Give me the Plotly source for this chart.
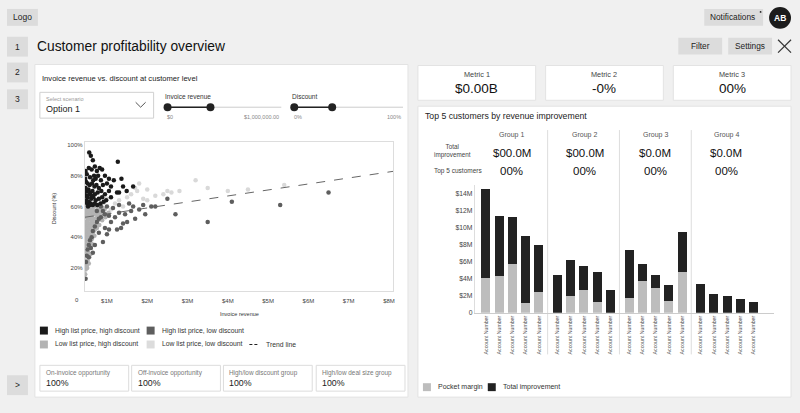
import plotly.graph_objects as go

# ---------------- DATA ----------------
# Scatter: (invoice revenue in $M, discount in %)
hi_list_hi_disc = [(0.56,95),(0.60,93),(0.65,90),(1.27,89),(0.47,83),(0.50,81),(0.55,85),(0.62,84),
    (0.70,86),(0.75,83),(0.82,85),(0.88,84),(0.68,80),(0.78,80),(0.58,79),(0.66,77),(0.72,78),
    (0.85,77),(0.95,80),(1.05,78),(1.17,77),(1.36,78),(0.48,76),(0.52,75),(0.57,74),(0.63,75),
    (0.69,73),(0.74,74),(0.80,72),(0.90,74),(1.00,75),(1.10,73),(1.40,73),(1.65,73),(1.49,70),
    (0.47,72),(0.50,70),(0.54,71),(0.59,69),(0.64,70),(0.70,68),(0.77,69),(0.86,70),(0.95,68),
    (1.05,70),(1.25,69),(1.30,69),(0.48,67),(0.52,66),(0.56,68),(0.61,65),(0.66,66),(0.72,64),
    (0.80,65),(0.88,66),(0.98,64),(1.10,66),(0.47,63),(0.51,62),(0.55,63),(0.60,62),(0.65,61),
    (0.70,62),(0.76,61),(0.84,62),(0.92,63),(0.49,64),(0.53,60),(0.58,61),(0.62,67),(0.45,69),(0.46,78)]
hi_list_lo_disc = [(2.7,55),(3.5,50),(4.1,63),(5.3,61),(6.5,69),(2.5,65),(2.1,60),(1.8,58),(1.9,61),
    (1.7,52),(1.6,57),(1.55,62),(1.45,55),(1.4,49),(1.3,56),(1.2,53),(1.1,50),(1.05,45),(1.0,42),
    (1.25,45),(1.35,46),(1.5,50),(1.65,60),(0.95,55),(0.9,57),(0.85,53),(0.8,52),(0.75,50),(0.7,47),
    (0.65,44),(0.62,40),(0.58,38),(0.55,35),(0.52,32),(0.5,28),(0.48,24),(0.47,13),(0.9,37),(0.8,43),
    (0.7,35),(0.6,33),(1.15,59),(1.3,61),(2.2,60),(1.95,55),(0.95,46),(1.05,54),(0.75,57),
    (0.85,60),(1.0,60),(0.65,30),(0.55,27)]
lo_list_hi_disc = [(0.46,16),(0.47,19),(0.46,23),(0.48,25),(0.47,29),(0.46,31),(0.49,34),(0.47,38),
    (0.48,40),(0.46,43),(0.47,47),(0.49,49),(0.46,53),(0.48,55),(0.47,58),(0.46,61),
    (0.51,20),(0.50,22),(0.52,25),(0.51,28),(0.50,31),(0.53,33),(0.51,37),(0.52,39),(0.50,42),
    (0.51,46),(0.53,48),(0.52,51),(0.50,55),(0.51,57),(0.52,60),
    (0.55,23),(0.56,27),(0.54,30),(0.57,35),(0.55,38),(0.56,41),(0.54,46),(0.57,49),(0.55,53),
    (0.56,57),(0.54,61),
    (0.59,29),(0.60,33),(0.58,37),(0.61,40),(0.59,45),(0.60,48),(0.58,52),(0.61,56),(0.60,60),
    (0.64,35),(0.63,39),(0.65,42),(0.66,47),(0.64,50),(0.63,54),(0.65,58),(0.66,61),
    (0.69,41),(0.70,45),(0.68,48),(0.71,52),(0.69,57),(0.70,60),
    (0.75,46),(0.74,49),(0.76,54),(0.73,57),(0.75,61),
    (0.81,48),(0.80,53),(0.82,56),(0.79,60),
    (0.88,51),(0.86,55),(0.89,59),
    (0.96,53),(0.94,58),(1.04,56),
    (0.47,44),(0.48,50),(0.49,57),(0.48,60),(0.53,44),(0.54,52),(0.53,56),(0.57,43),(0.58,47),
    (0.58,55),(0.57,59),(0.62,44),(0.61,51),(0.62,58),(0.67,44),(0.66,52),(0.67,55),(0.72,47),
    (0.71,56),(0.73,52),(0.78,51),(0.77,55),(0.78,58),(0.84,53),(0.83,57),(0.90,55),(0.62,36),
    (0.56,33),(0.53,29),(0.49,22),(0.47,35),(0.50,39)]
lo_list_lo_disc = [(1.8,75),(3.2,77),(3.5,72),(4.0,70),(4.5,71),(5.4,74),(2.0,71),(2.5,70),(2.8,70),
    (1.6,68),(1.9,65),(2.2,67),(1.7,72),(1.5,66),(1.3,64),(1.2,62),(2.0,64),(2.4,68),(1.4,60),
    (1.1,58),(0.9,62),(1.0,65),(0.85,58),(1.75,70),(2.6,69)]
trend_x = [0.45, 8.1]
trend_y = [53, 82.8]

scatter_x_tickvals = [1, 2, 3, 4, 5, 6, 7, 8]
scatter_x_ticktext = ["$1M", "$2M", "$3M", "$4M", "$5M", "$6M", "$7M", "$8M"]
scatter_y_tickvals = [20, 40, 60, 80, 100]
scatter_y_ticktext = ["20%", "40%", "60%", "80%", "100%"]

legend_labels = ["High list price, high discount", "High list price, low discount",
                 "Low list price, high discount", "Low list price, low discount", "Trend line"]

# Bars: 4 groups x 5 customers ($M)
groups = ["Group 1", "Group 2", "Group 3", "Group 4"]
group_totals = ["$00.0M", "$00.0M", "$0.0M", "$0.0M"]
group_pcts = ["00%", "00%", "00%", "00%"]
pocket_margin = [4.1, 4.3, 5.7, 1.1, 2.45, 0, 1.95, 2.65, 1.3, 0,
                 1.75, 3.7, 2.95, 1.35, 4.8, 0, 0, 0, 0, 0]
total_improvement = [10.4, 7.0, 5.5, 7.85, 5.45, 4.4, 4.25, 2.85, 3.45, 2.7,
                     5.65, 2.0, 1.5, 1.85, 4.7, 3.35, 2.2, 1.9, 1.65, 1.25]
account_label = "Account Number"
bar_y_tickvals = [0, 2, 4, 6, 8, 10, 12, 14]
bar_y_ticktext = ["0", "$2M", "$4M", "$6M", "$8M", "$10M", "$12M", "$14M"]

metrics = ["Metric 1", "Metric 2", "Metric 3"]
metric_values = ["$0.00B", "-0%", "00%"]
bottom_cards = ["On-invoice opportunity", "Off-invoice opportunity", "High/low discount group", "High/low deal size group"]
bottom_values = ["100%", "100%", "100%", "100%"]

# ---------------- LAYOUT HELPERS ----------------
W, H = 800, 413
FONT = "Liberation Sans, Arial, sans-serif"
def X(p): return p / W
def Y(p): return 1 - p / H

shapes, annots = [], []

def rect(x0, y0, x1, y1, fill, line=None, lw=1):
    shapes.append(dict(type="rect", xref="paper", yref="paper", x0=X(x0), x1=X(x1), y0=Y(y1), y1=Y(y0),
                       fillcolor=fill, line=dict(color=line if line else fill, width=lw if line else 0), layer="below"))

def seg(x0, y0, x1, y1, color, width=1, dash="solid"):
    shapes.append(dict(type="line", xref="paper", yref="paper", x0=X(x0), x1=X(x1), y0=Y(y0), y1=Y(y1),
                       line=dict(color=color, width=width, dash=dash), layer="below"))

def circ(cx, cy, r, fill):
    shapes.append(dict(type="circle", xref="paper", yref="paper", x0=X(cx - r), x1=X(cx + r), y0=Y(cy + r), y1=Y(cy - r),
                       fillcolor=fill, line=dict(width=0), layer="below"))

def txt(x, y, s, size, color="#222", xanchor="left", textangle=0):
    annots.append(dict(x=X(x), y=Y(y), xref="paper", yref="paper", text=s, showarrow=False,
                       xanchor=xanchor, yanchor="middle", textangle=textangle,
                       font=dict(family=FONT, size=size, color=color)))

BTN = "#dcdcdc"
# sidebar
rect(7, 9, 38, 26, BTN); txt(22.5, 17.5, "Logo", 8.5, xanchor="center")
for lab, (y0, y1) in zip(["1", "2", "3"], [(37, 57), (63, 83), (90, 110)]):
    rect(7, y0, 28, y1, BTN); txt(17.5, (y0 + y1) / 2, lab, 8.5, xanchor="center")
rect(7, 378, 28, 398, BTN); txt(17.5, 388, ">", 8.5, xanchor="center")

# top right
rect(706, 9, 765, 26, BTN); txt(734, 17.5, "Notifications", 8.3, xanchor="center")
circ(762.5, 12, 0.9, "#222")
circ(782, 18, 11, "#1c1c1c"); txt(782, 18, "<b>AB</b>", 8.5, color="white", xanchor="center")
rect(680, 38, 724, 55, BTN); txt(702, 46.5, "Filter", 8.3, xanchor="center")
rect(730, 38, 774, 55, BTN); txt(752, 46.5, "Settings", 8.3, xanchor="center")
seg(780, 40, 793, 53, "#333", 1.2); seg(780, 53, 793, 40, "#333", 1.2)

txt(35, 47, "Customer profitability overview", 13.8, color="#111")

# cards
CARD_LINE = "#e3e3e3"
rect(35, 65, 409, 400, "white", CARD_LINE)
for i, (x0, x1) in enumerate([(419, 537), (547, 665), (675, 793)]):
    rect(x0, 66, x1, 101, "white", CARD_LINE)
    txt((x0 + x1) / 2, 75, metrics[i], 7.3, color="#444", xanchor="center")
    txt((x0 + x1) / 2, 89, metric_values[i], 13.5, color="#111", xanchor="center")
rect(419, 107, 793, 400, "white", CARD_LINE)

# left panel header + controls
txt(40, 79, "Invoice revenue vs. discount at customer level", 7.6, color="#222")
rect(40, 93, 154, 119, "white", "#d0d0d0")
txt(44, 100, "Select scenario", 5.5, color="#999")
txt(44, 110, "Option 1", 9, color="#222")
shapes.append(dict(type="path", xref="paper", yref="paper",
                   path=f"M {X(136)} {Y(103)} L {X(141)} {Y(108)} L {X(146)} {Y(103)}",
                   line=dict(color="#555", width=1), layer="below"))

def slider(x_start, x_end, k0, k1, label, lo, hi):
    txt(x_start - 4, 97, label, 6.5, color="#333")
    seg(x_start, 108, x_end, 108, "#cccccc", 1)
    seg(k0, 108, k1, 108, "#222", 1.6)
    circ(k0, 108, 4, "#222"); circ(k1, 108, 4, "#222")
    txt(x_start - 2, 118, lo, 5.5, color="#888")
    txt(x_end, 118, hi, 5.5, color="#888", xanchor="right")
slider(167, 282, 168, 211, "Invoice revenue", "$0", "$1,000,000.00")
slider(295, 404, 295, 333, "Discount", "0%", "100%")

# scatter axis titles / corner 0
txt(240, 316, "Invoice revenue", 5.5, color="#333", xanchor="center")
txt(55, 210, "Discount (%)", 5.5, color="#333", xanchor="center", textangle=-90)
txt(81, 302, "0", 6, color="#444", xanchor="right")

# scatter legend
LCOL = ["#1a1a1a", "#5e5e5e", "#b3b3b3", "#dcdcdc"]
for i, (sx, sy) in enumerate([(40, 333), (147, 333), (40, 347), (147, 347)]):
    rect(sx, sy - 4, sx + 8, sy + 4, LCOL[i])
    txt(sx + 13, sy, legend_labels[i], 6.8, color="#333")
seg(250, 347, 260, 347, "#222", 1.2, "3px,2px")
txt(265, 347, legend_labels[4], 6.8, color="#333")

# bottom cards
for i, (x0, x1) in enumerate([(40, 129), (132, 221), (224, 313), (317, 406)]):
    rect(x0, 368, x1, 394, "white", "#dcdcdc")
    txt(x0 + 4, 376, bottom_cards[i], 6.4, color="#777")
    txt(x0 + 4, 386, bottom_values[i], 8.8, color="#222")

# bar panel header
txt(424, 117, "Top 5 customers by revenue improvement", 8.7, color="#222")
txt(433, 152, "Total<br>improvement", 6.3, color="#444")
txt(433, 172, "Top 5 customers", 6.5, color="#444")
for i, cx in enumerate([513, 586, 657, 728]):
    txt(cx, 136, groups[i], 7, color="#555", xanchor="center")
    txt(cx, 154, group_totals[i], 11.5, color="#111", xanchor="center")
    txt(cx, 172, group_pcts[i], 11.5, color="#111", xanchor="center")
for sx in [549, 621, 693]:
    seg(sx, 131, sx, 357, "#dddddd", 1)

# bar legend
rect(424, 386, 432, 394, "#bdbdbd"); txt(437, 390, "Pocket margin", 7, color="#333")
rect(489, 386, 497, 394, "#222"); txt(502, 390, "Total improvement", 7, color="#333")

# ---------------- TRACES ----------------
fig = go.Figure()
def sc(pts, color):
    fig.add_trace(go.Scatter(x=[p[0] for p in pts], y=[p[1] for p in pts], mode="markers",
                             marker=dict(size=4.5, color=color, line=dict(width=0)),
                             xaxis="x", yaxis="y", hoverinfo="skip"))
sc(lo_list_lo_disc, "#d9d9d9")
sc(lo_list_hi_disc, "#b3b3b3")
sc(hi_list_lo_disc, "#5e5e5e")
sc(hi_list_hi_disc, "#1a1a1a")
fig.add_trace(go.Scatter(x=trend_x, y=trend_y, mode="lines", line=dict(color="#666", width=1, dash="dash"),
                         xaxis="x", yaxis="y"))

bar_x = [g * 5.4 + i for g in range(4) for i in range(5)]
fig.add_trace(go.Bar(x=bar_x, y=pocket_margin, marker=dict(color="#bdbdbd", line=dict(width=0)),
                     width=0.68, xaxis="x2", yaxis="y2"))
fig.add_trace(go.Bar(x=bar_x, y=total_improvement, marker=dict(color="#222222", line=dict(width=0)),
                     width=0.68, xaxis="x2", yaxis="y2"))

tickfont = dict(family=FONT, size=6, color="#444")
fig.update_layout(
    width=W, height=H, margin=dict(l=0, r=0, t=0, b=0),
    paper_bgcolor="#f0f0f0", plot_bgcolor="rgba(0,0,0,0)",
    showlegend=False, barmode="stack",
    shapes=shapes, annotations=annots,
    xaxis=dict(domain=[X(85), X(394)], range=[0.45, 8.1], anchor="y",
               tickvals=scatter_x_tickvals, ticktext=scatter_x_ticktext, tickfont=tickfont,
               ticklabelstandoff=4,
               showgrid=False, zeroline=False, showline=True, mirror=True, linecolor="#dddddd", linewidth=1, ticks=""),
    yaxis=dict(domain=[Y(293), Y(143)], range=[5.2, 101.9], anchor="x",
               tickvals=scatter_y_tickvals, ticktext=scatter_y_ticktext, tickfont=tickfont,
               showgrid=False, zeroline=False, showline=True, mirror=True, linecolor="#dddddd", linewidth=1, ticks=""),
    xaxis2=dict(domain=[X(476), X(776)], range=[-0.83, 21.73], anchor="y2",
                tickvals=bar_x, ticktext=[account_label] * len(bar_x), tickangle=-90,
                tickfont=dict(family=FONT, size=5.2, color="#555"),
                showgrid=False, zeroline=False, showline=True, linecolor="#cccccc", linewidth=1, ticks=""),
    yaxis2=dict(domain=[Y(315), Y(186)], range=[0, 15], anchor="x2",
                tickvals=bar_y_tickvals, ticktext=bar_y_ticktext,
                tickfont=dict(family=FONT, size=6.8, color="#444"),
                showgrid=False, zeroline=False, showline=True, linecolor="#dddddd", linewidth=1, ticks=""),
)
fig.write_html("out.html", config={"displayModeBar": False},
               post_script="document.body.style.margin='0';document.body.style.overflow='hidden';")
